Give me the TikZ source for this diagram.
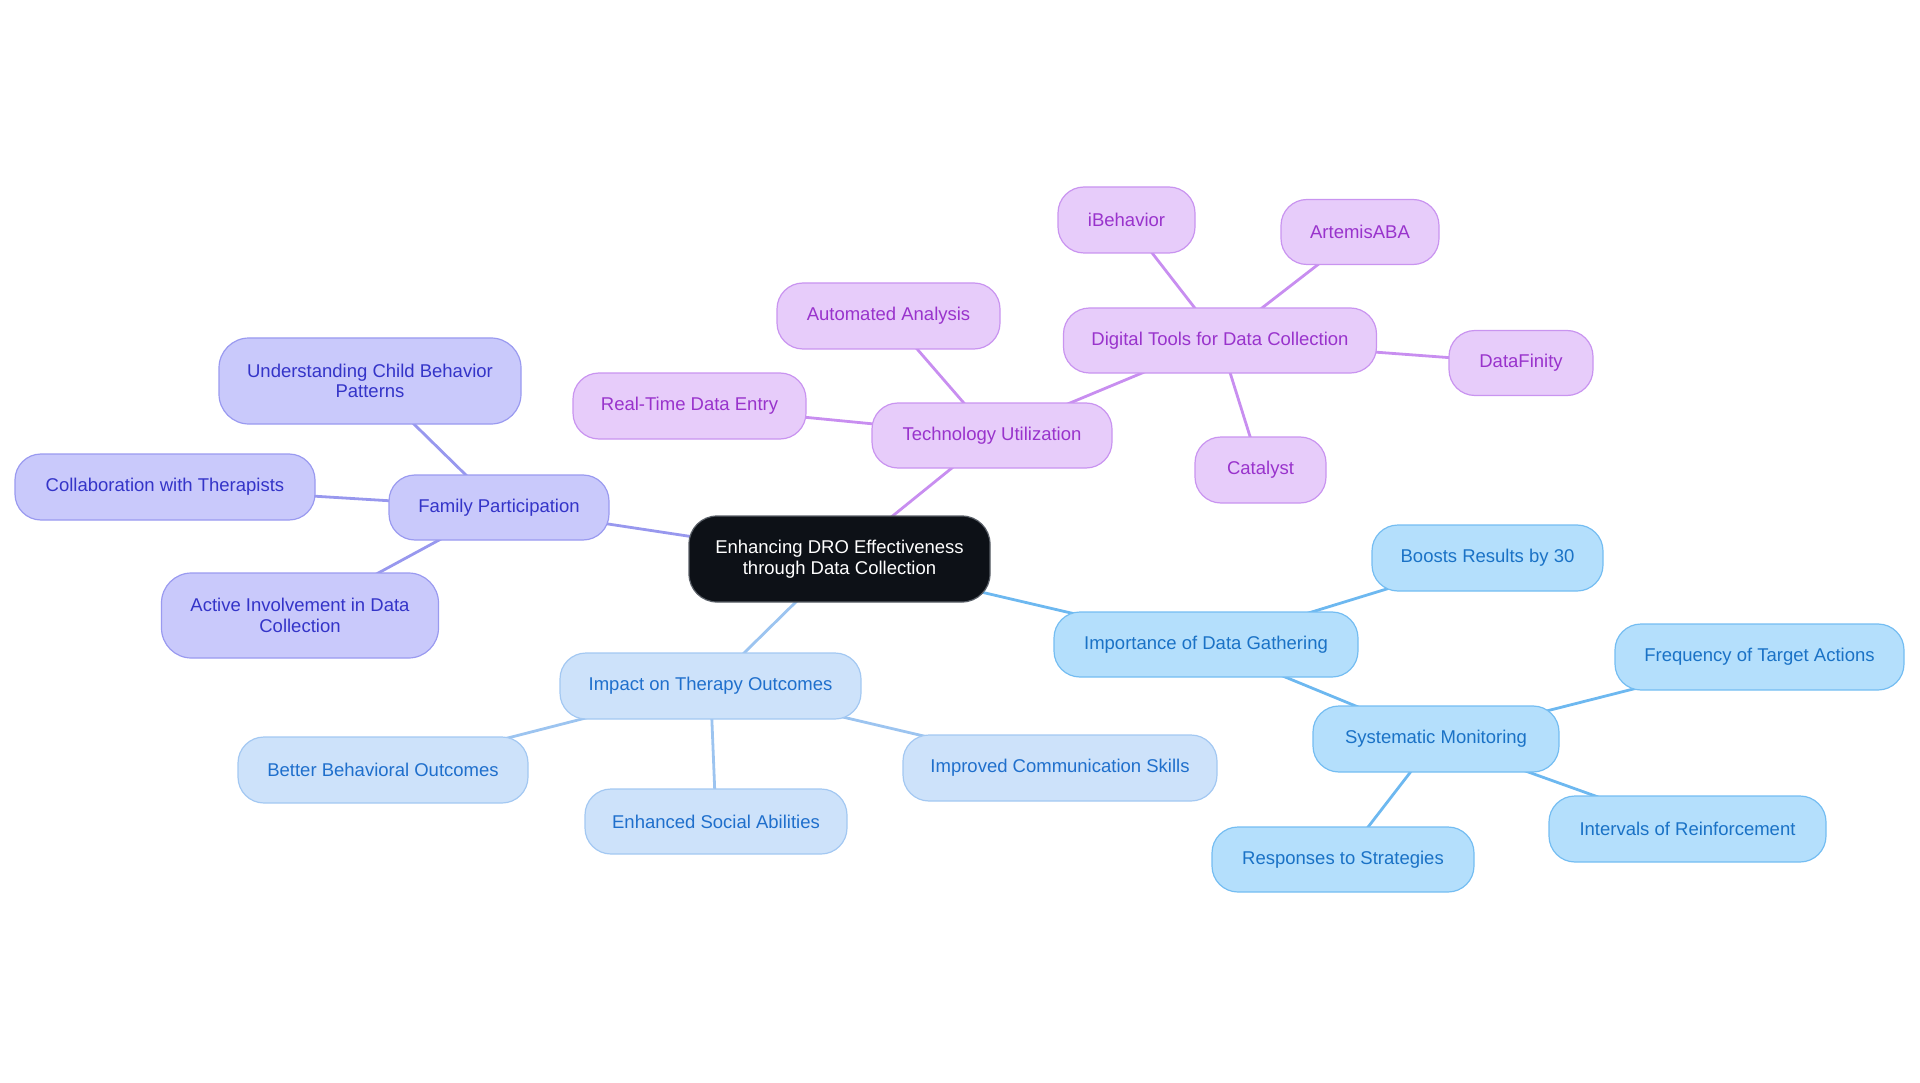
\documentclass[tikz,border=0pt]{standalone}
\usepackage{fontspec}
\setmainfont{Liberation Sans}
\usetikzlibrary{backgrounds}
\definecolor{purF}{HTML}{E7CCFA}
\definecolor{purD}{HTML}{C994F0}
\definecolor{purT}{HTML}{9933CC}
\definecolor{purE}{HTML}{C88EF0}
\definecolor{vioF}{HTML}{C9C9FB}
\definecolor{vioD}{HTML}{9A9AF0}
\definecolor{vioT}{HTML}{3434C8}
\definecolor{vioE}{HTML}{9898EE}
\definecolor{lbF}{HTML}{CDE2FA}
\definecolor{lbD}{HTML}{A3C8F2}
\definecolor{lbT}{HTML}{1F6FCC}
\definecolor{lbE}{HTML}{9CC4F0}
\definecolor{skF}{HTML}{B4DFFC}
\definecolor{skD}{HTML}{74BDF2}
\definecolor{skT}{HTML}{1A72C6}
\definecolor{skE}{HTML}{6DB8F0}
\definecolor{ctrF}{HTML}{0D1117}
\definecolor{ctrD}{HTML}{5A6068}
\newcommand\nodefont{\fontsize{18.5}{20.5}\selectfont}
\tikzset{
  x=1pt, y=-1pt,
  base/.style={rounded corners=26pt, draw, line width=1.2pt, align=center,
    font=\nodefont, inner sep=0pt, minimum height=65pt},
  pur/.style={base, fill=purF, draw=purD, text=purT},
  vio/.style={base, fill=vioF, draw=vioD, text=vioT},
  lb/.style={base, fill=lbF, draw=lbD, text=lbT},
  sk/.style={base, fill=skF, draw=skD, text=skT},
  ctr/.style={base, fill=ctrF, draw=ctrD, text=white, minimum height=86pt, rounded corners=28pt},
  link/.style={line width=2.8pt},
}
\begin{document}
\begin{tikzpicture}
\useasboundingbox (0,0) rectangle (1920,1083);
% central
\node[ctr, minimum width=301pt] (c) at (839.5,559) {Enhancing DRO Effectiveness\\through Data Collection};
% family branch
\node[vio, minimum width=220pt] (fam) at (499,507.5) {Family Participation};
\node[vio, minimum width=302pt, minimum height=86pt, rounded corners=30pt] (und) at (370,381) {Understanding Child Behavior\\Patterns};
\node[vio, minimum width=300pt, minimum height=66pt] (col) at (165,487) {Collaboration with Therapists};
\node[vio, minimum width=277pt, minimum height=85pt, rounded corners=30pt] (act) at (300,615.5) {Active Involvement in Data\\Collection};
% technology branch
\node[pur, minimum width=240pt] (tech) at (992,435.5) {Technology Utilization};
\node[pur, minimum width=233pt, minimum height=66pt] (rt) at (689.5,406) {Real-Time Data Entry};
\node[pur, minimum width=223pt, minimum height=66pt] (auto) at (888.5,316) {Automated Analysis};
\node[pur, minimum width=313pt] (dig) at (1220,340.5) {Digital Tools for Data Collection};
\node[pur, minimum width=137pt, minimum height=66pt] (ibe) at (1126.5,220) {iBehavior};
\node[pur, minimum width=158pt] (art) at (1360,232) {ArtemisABA};
\node[pur, minimum width=144pt] (dfi) at (1521,363) {DataFinity};
\node[pur, minimum width=131pt, minimum height=66pt] (cat) at (1260.5,470) {Catalyst};
% impact branch
\node[lb, minimum width=301pt, minimum height=66pt] (imp) at (710.5,686) {Impact on Therapy Outcomes};
\node[lb, minimum width=290pt, minimum height=66pt] (bbo) at (383,770) {Better Behavioral Outcomes};
\node[lb, minimum width=262pt] (esa) at (716,821.5) {Enhanced Social Abilities};
\node[lb, minimum width=314pt, minimum height=66pt] (ics) at (1060,768) {Improved Communication Skills};
% importance branch
\node[sk, minimum width=304pt] (idg) at (1206,644.5) {Importance of Data Gathering};
\node[sk, minimum width=231pt, minimum height=66pt] (brb) at (1487.5,558) {Boosts Results by 30};
\node[sk, minimum width=246pt, minimum height=66pt] (sm) at (1436,739) {Systematic Monitoring};
\node[sk, minimum width=289pt, minimum height=66pt] (fta) at (1759.5,657) {Frequency of Target Actions};
\node[sk, minimum width=277pt, minimum height=66pt] (ior) at (1687.5,829) {Intervals of Reinforcement};
\node[sk, minimum width=262pt] (rts) at (1343,859.5) {Responses to Strategies};
\begin{pgfonlayer}{background}
\draw[link, vioE] (c.center) -- (fam.center);
\draw[link, vioE] (fam.center) -- (und.center);
\draw[link, vioE] (fam.center) -- (col.center);
\draw[link, vioE] (fam.center) -- (act.center);
\draw[link, purE] (c.center) -- (tech.center);
\draw[link, purE] (tech.center) -- (rt.center);
\draw[link, purE] (tech.center) -- (auto.center);
\draw[link, purE] (tech.center) -- (dig.center);
\draw[link, purE] (dig.center) -- (ibe.center);
\draw[link, purE] (dig.center) -- (art.center);
\draw[link, purE] (dig.center) -- (dfi.center);
\draw[link, purE] (dig.center) -- (cat.center);
\draw[link, lbE] (c.center) -- (imp.center);
\draw[link, lbE] (imp.center) -- (bbo.center);
\draw[link, lbE] (imp.center) -- (esa.center);
\draw[link, lbE] (imp.center) -- (ics.center);
\draw[link, skE] (c.center) -- (idg.center);
\draw[link, skE] (idg.center) -- (brb.center);
\draw[link, skE] (idg.center) -- (sm.center);
\draw[link, skE] (sm.center) -- (fta.center);
\draw[link, skE] (sm.center) -- (ior.center);
\draw[link, skE] (sm.center) -- (rts.center);
\end{pgfonlayer}
\end{tikzpicture}
\end{document}
